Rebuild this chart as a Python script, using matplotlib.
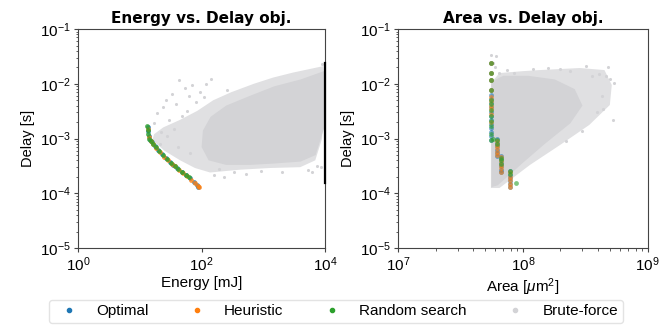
import matplotlib
matplotlib.use("Agg")
import matplotlib.pyplot as plt

plt.rcParams['font.family'] = ['Liberation Sans', 'DejaVu Sans']
plt.rcParams['mathtext.fontset'] = 'custom'
plt.rcParams['mathtext.rm'] = 'Liberation Sans'
plt.rcParams['mathtext.it'] = 'Liberation Sans:italic'
plt.rcParams['mathtext.bf'] = 'Liberation Sans:bold'

# --- Energy vs. Delay: pareto points
energy_opt = [13.4, 13.6, 14.0, 14.6, 15.8, 17.5, 20, 23, 26.5, 30.9, 35, 40, 47.9, 55, 65, 75, 83, 89]
delay_opt_e = [1.64e-3, 1.35e-3, 1.12e-3, 9.4e-4, 8.5e-4, 7.4e-4, 6.2e-4, 5.3e-4, 4.4e-4,
               3.77e-4, 3.3e-4, 2.9e-4, 2.48e-4, 2.2e-4, 1.87e-4, 1.6e-4, 1.42e-4, 1.29e-4]
energy_heu = [13.5, 14.2, 15.2, 16.5, 18.5, 21.5, 25, 28.5, 33, 37.5, 43, 50, 58, 68, 78, 86, 91]
delay_heu_e = [1.5e-3, 1.05e-3, 8.9e-4, 7.9e-4, 6.8e-4, 5.7e-4, 4.7e-4, 4.1e-4, 3.5e-4,
               3.1e-4, 2.7e-4, 2.35e-4, 2.05e-4, 1.78e-4, 1.55e-4, 1.38e-4, 1.3e-4]
energy_rnd = [13.3, 13.5, 13.8, 14.3, 15.0, 16.2, 18.0, 20.5, 24, 27.5, 32, 36.5, 42, 48.5, 56, 63]
delay_rnd_e = [1.72e-3, 1.45e-3, 1.2e-3, 1.0e-3, 8.9e-4, 8.0e-4, 7.1e-4, 6.0e-4, 5.0e-4,
               4.3e-4, 3.6e-4, 3.2e-4, 2.8e-4, 2.45e-4, 2.15e-4, 1.95e-4]

# --- Energy vs. Delay: brute-force cloud (sparse zone, dense core, stray points)
bf_e_outer_x = [9300, 3000, 1440, 700, 300, 154, 85, 45, 24, 17, 16, 25, 45, 78, 137, 420, 1290, 3940, 6900, 8900, 10000]
bf_e_outer_y = [2.1e-2, 1.6e-2, 1.3e-2, 1.0e-2, 7.0e-3, 5.0e-3, 3.2e-3, 2.2e-3, 1.6e-3, 1.2e-3, 9.4e-4,
                6.0e-4, 4.0e-4, 2.9e-4, 2.4e-4, 2.7e-4, 2.9e-4, 3.0e-4, 4.0e-4, 1.0e-3, 7.7e-3]
bf_e_core_x = [9500, 4000, 1500, 600, 250, 140, 105, 100, 130, 250, 600, 1500, 4000, 7000, 9500]
bf_e_core_y = [1.7e-2, 1.2e-2, 9.0e-3, 6.0e-3, 4.0e-3, 2.5e-3, 1.4e-3, 7.0e-4, 4.0e-4, 3.3e-4, 3.3e-4,
               3.5e-4, 3.8e-4, 5.0e-4, 1.5e-3]
bf_e_pts_x = [43, 54, 27, 19, 33, 62, 24, 38, 70, 95, 120, 30, 48, 17, 22, 160, 230, 6000, 8500, 9800,
              58, 36, 80, 110, 28, 21, 42, 65, 190, 330, 520, 900, 2000, 5200, 7400, 9000, 260, 140]
bf_e_pts_y = [1.17e-2, 8.4e-3, 5.0e-3, 2.9e-3, 6.5e-3, 6.0e-3, 3.8e-3, 4.2e-3, 9.5e-3, 7.0e-3,
              1.0e-2, 2.2e-3, 2.6e-3, 1.9e-3, 1.3e-3, 2.2e-4, 2.0e-4, 2.5e-4, 3.0e-4, 1.9e-2,
              3.2e-3, 1.5e-3, 4.6e-3, 5.8e-3, 1.1e-3, 8.0e-4, 7.0e-4, 5.5e-4, 2.8e-4, 2.5e-4,
              2.3e-4, 2.6e-4, 2.4e-4, 2.7e-4, 3.2e-4, 2.3e-2, 7.8e-3, 1.2e-2]

# --- Area vs. Delay: pareto points
area_opt = [5.55e7, 5.55e7, 5.55e7, 5.55e7, 5.55e7, 5.55e7, 5.55e7, 5.55e7, 5.55e7, 5.55e7,
            5.55e7, 5.55e7, 5.55e7, 5.55e7, 5.55e7, 5.55e7,
            6.2e7, 6.2e7, 6.2e7, 6.2e7, 6.2e7, 6.2e7,
            6.7e7, 6.7e7, 6.7e7, 6.7e7, 6.7e7, 6.7e7,
            7.9e7, 7.9e7, 7.9e7, 7.9e7, 7.9e7, 7.9e7]
delay_opt_a = [2.4e-2, 1.57e-2, 1.17e-2, 7.7e-3, 6.2e-3, 5.2e-3, 4.4e-3, 3.7e-3, 3.1e-3, 2.6e-3,
               2.2e-3, 1.85e-3, 1.55e-3, 1.3e-3, 1.1e-3, 9.4e-4,
               9.8e-4, 8.4e-4, 7.2e-4, 6.2e-4, 5.4e-4, 4.8e-4,
               4.9e-4, 4.2e-4, 3.6e-4, 3.1e-4, 2.7e-4, 2.4e-4,
               2.6e-4, 2.2e-4, 1.9e-4, 1.65e-4, 1.45e-4, 1.3e-4]
area_heu = [5.55e7, 5.55e7, 5.55e7, 5.55e7, 5.55e7, 5.55e7, 5.55e7, 5.55e7, 5.55e7, 5.55e7,
            6.2e7, 6.2e7, 6.2e7, 6.2e7, 6.2e7,
            6.7e7, 6.7e7, 6.7e7, 6.7e7, 6.7e7,
            7.9e7, 7.9e7, 7.9e7, 7.9e7, 7.9e7]
delay_heu_a = [2.4e-2, 1.57e-2, 1.17e-2, 7.7e-3, 5.7e-3, 4.8e-3, 4.0e-3, 3.4e-3, 2.8e-3, 2.0e-3,
               9.0e-4, 7.6e-4, 6.6e-4, 5.8e-4, 5.0e-4,
               4.6e-4, 3.9e-4, 3.3e-4, 2.9e-4, 2.5e-4,
               2.4e-4, 2.0e-4, 1.75e-4, 1.5e-4, 1.3e-4]
area_rnd = [5.55e7, 5.55e7, 5.55e7, 5.55e7, 5.55e7, 5.55e7, 5.55e7, 5.55e7, 5.55e7, 5.55e7,
            5.55e7, 5.55e7, 5.8e7, 6.2e7, 6.2e7, 6.7e7, 6.7e7, 6.7e7, 7.9e7, 7.9e7, 8.8e7]
delay_rnd_a = [2.4e-2, 1.57e-2, 1.17e-2, 7.7e-3, 5.0e-3, 4.2e-3, 3.3e-3, 2.6e-3, 2.1e-3, 1.7e-3,
               1.2e-3, 9.6e-4, 9.8e-4, 9.4e-4, 8.0e-4, 4.5e-4, 4.0e-4, 3.4e-4, 2.6e-4, 2.3e-4, 1.56e-4]

# --- Area vs. Delay: brute-force cloud
bf_a_outer_x = [5.55e7, 6.5e7, 1.0e8, 1.37e8, 2.86e8, 4.5e8, 5.15e8, 4.97e8, 3.4e8, 1.98e8, 1.14e8, 7.9e7, 6.5e7, 5.55e7]
bf_a_outer_y = [1.03e-2, 1.57e-2, 1.7e-2, 1.78e-2, 1.94e-2, 1.78e-2, 9.5e-3, 4.1e-3, 1.77e-3, 7.6e-4,
                3.3e-4, 1.75e-4, 1.25e-4, 1.25e-4]
bf_a_core_x = [5.6e7, 7.0e7, 1.1e8, 1.8e8, 2.6e8, 3.0e8, 2.4e8, 1.5e8, 1.0e8, 7.5e7, 6.3e7, 5.6e7]
bf_a_core_y = [1.1e-2, 1.4e-2, 1.4e-2, 1.2e-2, 8.0e-3, 4.0e-3, 1.9e-3, 8.0e-4, 3.6e-4, 2.0e-4, 1.4e-4, 1.3e-4]
bf_a_pts_x = [5.6e7, 6.1e7, 5.8e7, 6.4e7, 5.4e8, 5.3e8, 4.8e8, 4.3e8, 3.9e8, 2.0e8, 2.4e8, 3.6e8, 4.6e8, 6.0e7,
              7.4e7, 8.5e7, 1.2e8, 1.6e8, 3.2e8, 4.1e8, 5.0e8, 4.4e8, 3.0e8, 2.2e8]
bf_a_pts_y = [3.3e-2, 3.2e-2, 2.4e-2, 1.6e-2, 1.03e-2, 2.2e-3, 2.0e-2, 6.0e-3, 3.0e-3, 1.9e-2,
              1.7e-2, 1.4e-2, 1.4e-2, 2.0e-2, 1.75e-2, 1.6e-2, 1.85e-2, 1.95e-2, 2.1e-2, 1.5e-2,
              1.2e-2, 3.5e-3, 1.4e-3, 9.0e-4]

labels = ['Optimal', 'Heuristic', 'Random search', 'Brute-force']
colors = ['#1f77b4', '#ff7f0e', '#2ca02c', '#d3d3d6']

fig = plt.figure(figsize=(6.61, 3.26), dpi=100)
ax1 = fig.add_axes([0.118, 0.239, 0.374, 0.672])
ax2 = fig.add_axes([0.602, 0.239, 0.378, 0.672])

spine_col = '#444444'


def style_axis(ax, xmin, xmax, xticks, xminor):
    ax.set_xscale('log')
    ax.set_yscale('log')
    ax.set_xlim(xmin, xmax)
    ax.set_ylim(1e-5, 1e-1)
    ax.set_xticks(xticks)
    if not xminor:
        ax.xaxis.set_minor_locator(matplotlib.ticker.NullLocator())
    ax.set_yticks([1e-5, 1e-4, 1e-3, 1e-2, 1e-1])
    for s in ax.spines.values():
        s.set_color(spine_col)
        s.set_linewidth(0.8)
    ax.tick_params(which='major', length=3, width=0.8, color=spine_col, labelsize=11, pad=2)
    ax.tick_params(which='minor', length=1.8, width=0.6, color=spine_col)
    ax.set_ylabel('Delay [s]', fontsize=10.5, labelpad=4)


def draw_cloud(ax, ox, oy, cx, cy, px, py):
    ax.fill(ox, oy, color=colors[3], alpha=0.7, lw=0, zorder=1)
    ax.fill(cx, cy, color=colors[3], alpha=1.0, lw=0, zorder=1)
    ax.scatter(px, py, s=5, color=colors[3], lw=0, zorder=1)


draw_cloud(ax1, bf_e_outer_x, bf_e_outer_y, bf_e_core_x, bf_e_core_y, bf_e_pts_x, bf_e_pts_y)
ax1.scatter(energy_opt, delay_opt_e, s=12, color=colors[0], lw=0, alpha=0.8, zorder=2)
ax1.scatter(energy_heu, delay_heu_e, s=12, color=colors[1], lw=0, alpha=0.8, zorder=3)
ax1.scatter(energy_rnd, delay_rnd_e, s=12, color=colors[2], lw=0, alpha=0.8, zorder=4)
style_axis(ax1, 1, 1e4, [1, 1e2, 1e4], False)
ax1.set_xlabel('Energy [mJ]', fontsize=11, labelpad=2)
ax1.set_title('Energy vs. Delay obj.', fontsize=11, fontweight='bold', pad=4, family='DejaVu Sans')
ax1.axvline(1e4, ymin=0.297, ymax=0.845, color='black', lw=1.6, clip_on=False, zorder=5)

draw_cloud(ax2, bf_a_outer_x, bf_a_outer_y, bf_a_core_x, bf_a_core_y, bf_a_pts_x, bf_a_pts_y)
ax2.scatter(area_opt, delay_opt_a, s=12, color=colors[0], lw=0, alpha=0.6, zorder=2)
ax2.scatter(area_heu, delay_heu_a, s=12, color=colors[1], lw=0, alpha=0.6, zorder=3)
ax2.scatter(area_rnd, delay_rnd_a, s=12, color=colors[2], lw=0, alpha=0.6, zorder=4)
style_axis(ax2, 1e7, 1e9, [1e7, 1e8, 1e9], True)
ax2.set_xlabel(r'Area [$\mu$m$^2$]', fontsize=11, labelpad=2)
ax2.set_title('Area vs. Delay obj.', fontsize=11, fontweight='bold', pad=4, family='DejaVu Sans')

handles = [plt.Line2D([], [], ls='', marker='o', ms=3, color=c) for c in colors]
fig.legend(handles, labels, loc='lower center', bbox_to_anchor=(0.508, 0.009), ncol=4,
           fontsize=11, frameon=True, handletextpad=0.76, columnspacing=2.2,
           borderpad=0.3, borderaxespad=0, edgecolor='#dddddd', fancybox=True)

fig.savefig('out.png', dpi=100)
